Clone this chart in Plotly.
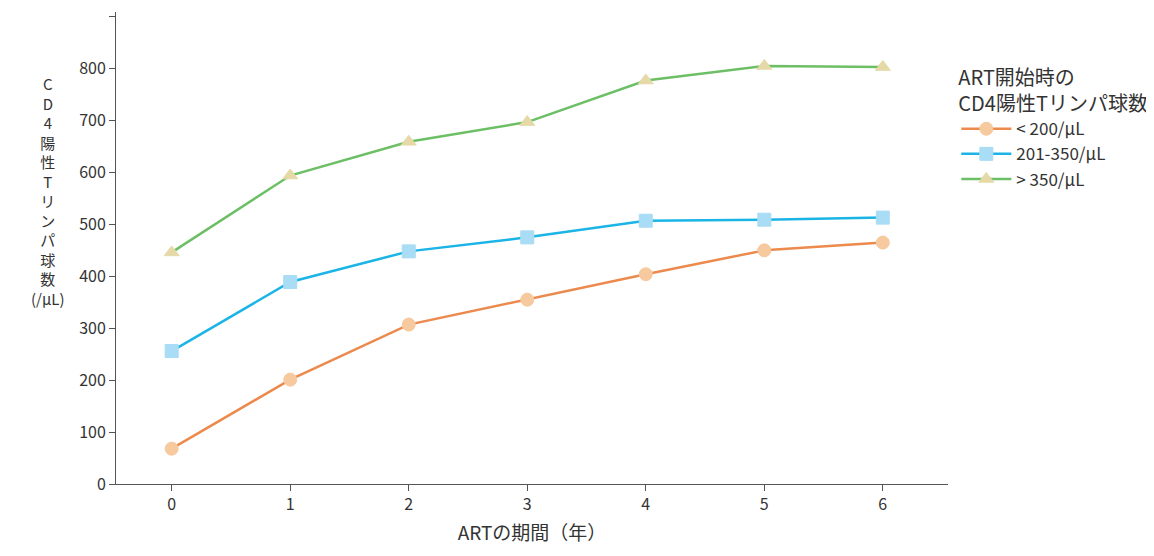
import plotly.graph_objects as go

years = [0, 1, 2, 3, 4, 5, 6]
low = [68, 201, 307, 355, 404, 450, 465]
mid = [256, 389, 448, 475, 507, 509, 513]
high = [446, 594, 659, 697, 777, 805, 803]
names = ["< 200/μL", "201-350/μL", "> 350/μL"]

font = "Noto Sans CJK JP"
fig = go.Figure()
styles = [
    (low, "#ec8a4d", "circle", "#f6c99e"),
    (mid, "#1bb4e6", "square", "#a9dcf5"),
    (high, "#6cbf65", "triangle-up", "#e5d9a8"),
]
for (vals, col, sym, fill), nm in zip(styles, names):
    fig.add_trace(go.Scatter(
        x=years, y=vals, name=nm, mode="lines+markers",
        line=dict(color=col, width=2.5),
        marker=dict(symbol=sym, size=13, color=fill, line=dict(color=fill, width=1)),
    ))

ylabel = "<br>".join(list("CD4陽性Tリンパ球数")) + "<br>(/μL)"
fig.add_annotation(text=ylabel, x=-0.105, y=0.62, xref="paper", yref="paper",
                   showarrow=False, font=dict(size=15, color="#333"), align="center")

fig.update_layout(
    width=1154, height=556, plot_bgcolor="white", paper_bgcolor="white",
    margin=dict(l=108, r=214, t=4, b=80, autoexpand=False),
    font=dict(family=font, size=16, color="#333"),
    xaxis=dict(range=[-0.47, 6.55], tickvals=years, showline=True, linecolor="#555",
               ticks="outside", ticklen=6, tickcolor="#555", showgrid=False, zeroline=False,
               title=dict(text="ARTの期間（年）", standoff=12)),
    yaxis=dict(range=[0, 909], tickvals=list(range(0, 901, 100)), showline=True, linecolor="#555",
               ticks="outside", ticklen=6, tickcolor="#555", showgrid=False, zeroline=False),
    legend=dict(x=1.01, y=0.9, xanchor="left", yanchor="top",
                title=dict(text="ART開始時の<br>CD4陽性Tリンパ球数"),
                font=dict(size=17), itemwidth=50, tracegroupgap=6),
)
fig.write_html("out.html")
